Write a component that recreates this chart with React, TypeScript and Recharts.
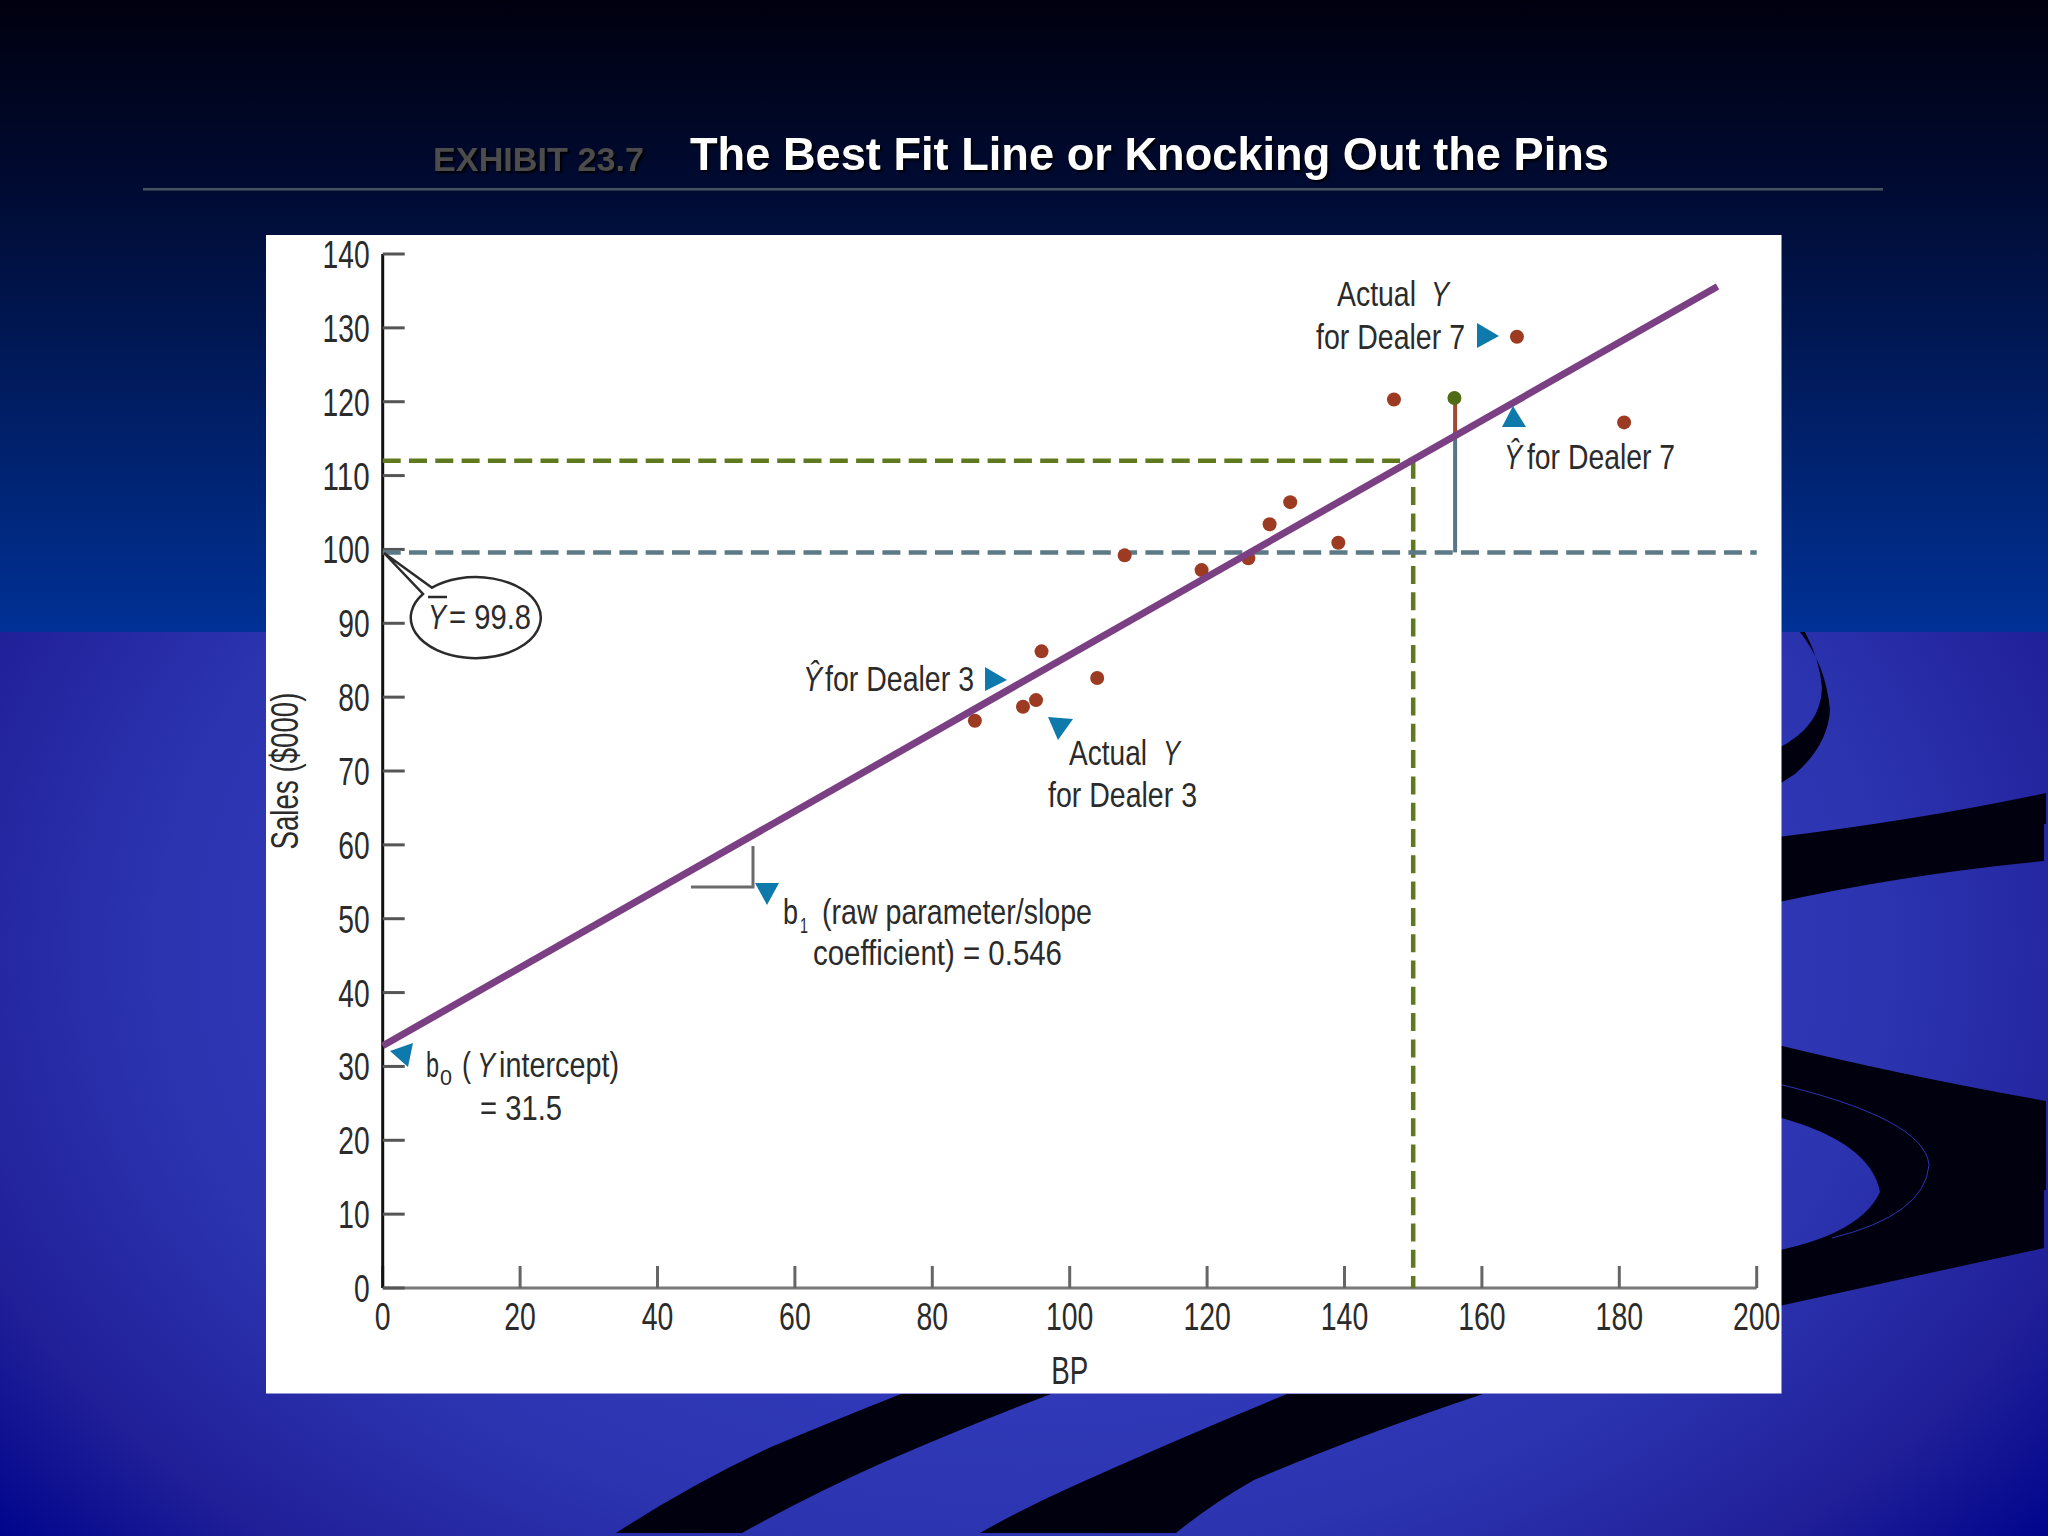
import React from "react";
import { ScatterChart, Scatter, XAxis, YAxis } from "recharts";

const xTicks = [0, 20, 40, 60, 80, 100, 120, 140, 160, 180, 200];
const yTicks = [0, 10, 20, 30, 40, 50, 60, 70, 80, 90, 100, 110, 120, 130, 140];

// dealers, BP against sales
const dealers = [
  { x: 86.2, y: 76.8 },
  { x: 93.2, y: 78.7 },
  { x: 95.1, y: 79.6 },
  { x: 95.9, y: 86.2 },
  { x: 104, y: 82.6 },
  { x: 108, y: 99.2 },
  { x: 119.2, y: 97.2 },
  { x: 126, y: 98.8 },
  { x: 129.1, y: 103.4 },
  { x: 132.1, y: 106.4 },
  { x: 139.1, y: 100.9 },
  { x: 147.2, y: 120.3 },
  { x: 165.1, y: 128.8 },
  { x: 180.7, y: 117.2 },
];
const highlighted = [{ x: 156, y: 120.5 }];
const fitLine = [{ x: 0, y: 32.8 }, { x: 194.3, y: 135.6 }];
const meanLine = [{ x: 0, y: 99.6 }, { x: 200, y: 99.6 }];
const guideH = [{ x: 0, y: 112 }, { x: 150, y: 112 }];
const guideV = [{ x: 150, y: 112 }, { x: 150, y: 0 }];
const explained = [{ x: 156.1, y: 99.6 }, { x: 156.1, y: 115.2 }];
const unexplained = [{ x: 156.1, y: 115.2 }, { x: 156.1, y: 120.5 }];

const FONT = "'Liberation Sans', Arial, sans-serif";
const INK = "#2b2b2b";
const TEAL = "#0e7aab";
const NOTE = 35;

const T = ({ x, y, w, size = 38, anchor = "start", italic = false, children, fill = INK, rotate }: any) => (
  <text
    x={x}
    y={y}
    textLength={w}
    lengthAdjust="spacingAndGlyphs"
    textAnchor={anchor}
    fontFamily={FONT}
    fontSize={size}
    fontStyle={italic ? "italic" : "normal"}
    fill={fill}
    transform={rotate ? `rotate(${rotate} ${x} ${y})` : undefined}
  >
    {children}
  </text>
);

const YTick = ({ x, y, payload }: any) => (
  <T x={x} y={y + 14} w={String(payload.value).length * 15.7} anchor="end">
    {payload.value}
  </T>
);

const XTick = ({ x, y, payload }: any) => (
  <T x={x} y={y} w={String(payload.value).length * 15.8} anchor="middle">
    {payload.value}
  </T>
);

const noDot = () => <g />;
const dot = (fill: string) => (p: any) => <circle cx={p.cx} cy={p.cy} r={7} fill={fill} />;

const Background = () => (
  <svg width={2048} height={1536} style={{ position: "absolute", left: 0, top: 0 }}>
    <defs>
      <linearGradient id="topBg" x1="0" y1="0" x2="0" y2="1">
        <stop offset="0" stopColor="#00000f" />
        <stop offset="0.3" stopColor="#000b33" />
        <stop offset="1" stopColor="#003196" />
      </linearGradient>
      <radialGradient
        id="lowBg"
        gradientUnits="userSpaceOnUse"
        cx={0}
        cy={0}
        r={1}
        gradientTransform="translate(1024 950) scale(1380 960)"
      >
        <stop offset="0" stopColor="#3a46cc" />
        <stop offset="0.625" stopColor="#2c34b0" />
        <stop offset="0.82" stopColor="#201f98" />
        <stop offset="0.96" stopColor="#00058c" />
      </radialGradient>
    </defs>
    <rect x={0} y={0} width={2048} height={632} fill="url(#topBg)" />
    <rect x={0} y={632} width={2048} height={904} fill="url(#lowBg)" />
    <g fill="#00000f">
      <path d="M901 1394 Q840 1418 771 1447 Q690 1485 616 1533 L742 1533 Q810 1495 882 1463 Q970 1425 1051 1394 Z" />
      <path d="M1287 1394 Q1175 1440 1071 1487 Q1020 1510 980 1533 L1176 1533 Q1210 1505 1254 1480 Q1360 1435 1483 1394 Z" />
      <path d="M1800 632 Q1826 665 1830 710 Q1828 745 1795 774 L1770 790 L1770 752 Q1821 730 1822 688 Q1820 660 1805 632 Z" />
      <path d="M1770 838 Q1920 820 2046 793 L2046 824 L2044 824 L2044 861 Q1900 875 1770 904 Z" />
      <path d="M1770 1043 Q1900 1075 2046 1101 L2046 1190 L2044 1190 L2044 1248 L1770 1308 L1770 1252 Q1860 1235 1880 1192 Q1870 1140 1770 1115 Z" />
    </g>
    <path d="M1770 1082 Q1925 1118 1929 1165 Q1925 1215 1832 1238" fill="none" stroke="#2a35b0" strokeWidth={1} />
    <rect x={143} y={188} width={1740} height={2.5} fill="#47525e" />
    <g style={{ filter: "drop-shadow(2px 2px 1px #000)" }}>
      <text x={433} y={171} textLength={211} lengthAdjust="spacingAndGlyphs" fontFamily={FONT} fontWeight="bold" fontSize={34} fill="#4c4c4c">
        EXHIBIT 23.7
      </text>
      <text x={690} y={170} textLength={919} lengthAdjust="spacingAndGlyphs" fontFamily={FONT} fontWeight="bold" fontSize={46} fill="#ffffff">
        The Best Fit Line or Knocking Out the Pins
      </text>
    </g>
    <rect x={266} y={235} width={1515.5} height={1158.5} fill="#ffffff" />
  </svg>
);

const Annotations = () => (
  <svg width={2048} height={1536} style={{ position: "absolute", left: 0, top: 0, pointerEvents: "none" }}>
    <g fill={TEAL}>
      <polygon points="1477,323 1477,348 1499,336" />
      <polygon points="1513,406 1502,427 1526,427" />
      <polygon points="985,667 985,691 1007,680" />
      <polygon points="1048,717 1073,719 1058,740" />
      <polygon points="755,883 779,883 767,905" />
      <polygon points="390,1051 413,1043 408,1067" />
    </g>

    <T x={1337} y={306} w={79} size={NOTE}>Actual</T>
    <T x={1431} y={306} w={18} size={NOTE} italic>Y</T>
    <T x={1316} y={349} w={149} size={NOTE}>for Dealer 7</T>

    <T x={1504} y={469} w={18} size={NOTE} italic>Ŷ</T>
    <T x={1527} y={469} w={148} size={NOTE}>for Dealer 7</T>

    <T x={803} y={691} w={19} size={NOTE} italic>Ŷ</T>
    <T x={825} y={691} w={149} size={NOTE}>for Dealer 3</T>

    <T x={1069} y={765} w={78} size={NOTE}>Actual</T>
    <T x={1163} y={765} w={17} size={NOTE} italic>Y</T>
    <T x={1048} y={807} w={149} size={NOTE}>for Dealer 3</T>

    <path d="M691 887 L753 887 L753 846" fill="none" stroke="#6b6b6b" strokeWidth={3} />
    <T x={783} y={924} w={15} size={NOTE}>b</T>
    <T x={800} y={933} w={8} size={22}>1</T>
    <T x={822} y={924} w={270} size={NOTE}>(raw parameter/slope</T>
    <T x={813} y={965} w={249} size={NOTE}>coefficient) = 0.546</T>

    <T x={426} y={1077} w={13} size={NOTE}>b</T>
    <T x={440} y={1085} w={12} size={22}>0</T>
    <T x={462} y={1077} w={9} size={NOTE}>(</T>
    <T x={477} y={1077} w={18} size={NOTE} italic>Y</T>
    <T x={499} y={1077} w={120} size={NOTE}>intercept)</T>
    <T x={480} y={1120} w={82} size={NOTE}>= 31.5</T>

    <path
      d="M384 553 L432 587.7 A65 40.5 0 1 1 423 594 Z"
      fill="#ffffff"
      stroke="#2b2b2b"
      strokeWidth={2.5}
      strokeLinejoin="miter"
    />
    <path d="M428 597 L447 597" stroke="#2b2b2b" strokeWidth={2.5} />
    <T x={428} y={629} w={18} size={NOTE} italic>Y</T>
    <T x={449} y={629} w={82} size={NOTE}>= 99.8</T>
  </svg>
);

export default function App() {
  return (
    <div style={{ position: "absolute", left: 0, top: 0, width: 2048, height: 1536, overflow: "hidden" }}>
      <Background />
      <div style={{ position: "absolute", left: 0, top: 0 }}>
        <ScatterChart width={2048} height={1536} margin={{ top: 254, right: 291.3, bottom: 208, left: 322.7 }}>
          <XAxis
            type="number"
            dataKey="x"
            domain={[0, 200]}
            ticks={xTicks}
            interval={0}
            height={40}
            tickSize={-22}
            tickMargin={64}
            tick={<XTick />}
            axisLine={{ stroke: "#777777", strokeWidth: 3 }}
            tickLine={{ stroke: "#666666", strokeWidth: 3 }}
            label={({ viewBox }: any) => (
              <T x={viewBox.x + viewBox.width / 2} y={1384} w={37} anchor="middle">BP</T>
            )}
          />
          <YAxis
            type="number"
            dataKey="y"
            domain={[0, 140]}
            ticks={yTicks}
            interval={0}
            width={60}
            tickSize={-22}
            tickMargin={35}
            tick={<YTick />}
            axisLine={{ stroke: "#111111", strokeWidth: 3 }}
            tickLine={{ stroke: "#555555", strokeWidth: 3 }}
            label={({ viewBox }: any) => (
              <T x={298} y={viewBox.y + viewBox.height / 2} w={157} anchor="middle" rotate={-90}>Sales ($000)</T>
            )}
          />
          <Scatter data={guideH} shape={noDot} line={{ stroke: "#5f7a1e", strokeWidth: 4.5, strokeDasharray: "18 8.3" }} isAnimationActive={false} />
          <Scatter data={guideV} shape={noDot} line={{ stroke: "#5f7a1e", strokeWidth: 4.5, strokeDasharray: "18 8.3" }} isAnimationActive={false} />
          <Scatter data={meanLine} shape={noDot} line={{ stroke: "#5c7a86", strokeWidth: 4.5, strokeDasharray: "18 8.3" }} isAnimationActive={false} />
          <Scatter data={explained} shape={noDot} line={{ stroke: "#587688", strokeWidth: 4 }} isAnimationActive={false} />
          <Scatter data={unexplained} shape={noDot} line={{ stroke: "#a04a30", strokeWidth: 4 }} isAnimationActive={false} />
          <Scatter data={dealers} shape={dot("#9c3b22")} isAnimationActive={false} />
          <Scatter data={highlighted} shape={dot("#4f6b14")} isAnimationActive={false} />
          <Scatter data={fitLine} shape={noDot} line={{ stroke: "#7b3f83", strokeWidth: 7 }} isAnimationActive={false} />
        </ScatterChart>
      </div>
      <Annotations />
    </div>
  );
}
